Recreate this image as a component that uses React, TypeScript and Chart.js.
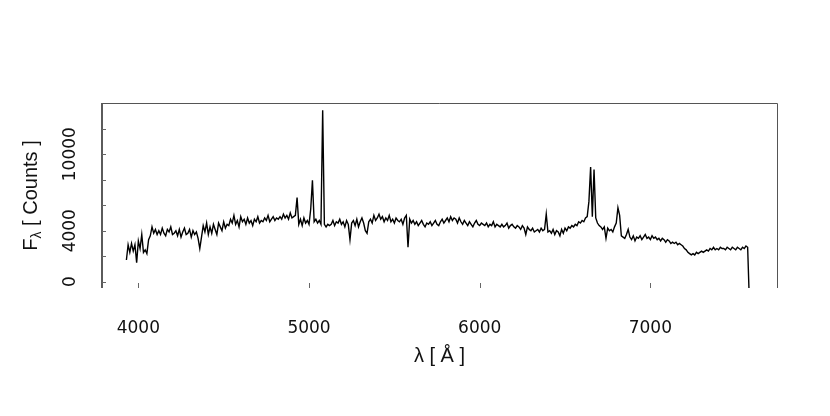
import React, { useEffect, useRef } from "react";
import { Chart, registerables } from "chart.js";

Chart.register(...registerables);

// Wavelength grid of the spectrum (Angstrom)
const LAMBDA_START = 3930;
const LAMBDA_STEP = 10;

// Flux values (counts), 10 Angstrom apart
const fluxBlue = [
  1700, 2900, 2300, 3000, 2400, 2900, 1500, 3200, 2600, 3700,
  2300, 2500, 2200, 3300, 3600, 4300, 3800, 4100, 3700, 4000,
  3700, 4200, 3800, 3600, 4100, 3900, 4300, 3700, 3800, 4000,
  3600, 4100, 3500, 3900, 4200, 3700, 3800, 4100, 3500, 4000,
  3700, 3900, 3400, 2600, 3500, 4400, 3900, 4600, 3700, 4300,
];
const fluxCyan = [
  3800, 4500, 4100, 3700, 4600, 4300, 4000, 4700, 4200, 4500,
  4400, 4900, 4600, 5200, 4500, 4800, 4300, 5100, 4700, 4900,
  4500, 5000, 4600, 4800, 4400, 4900, 4700, 5100, 4600, 4800,
  4700, 5000, 4800, 5200, 4700, 4900, 5100, 4800, 5000, 4900,
  5100, 4900, 5300, 5000, 5200, 4900, 5400, 5000, 5100, 5200,
];
const fluxGreen = [
  6600, 4500, 4900, 4400, 5000, 4600, 4800, 4500, 5700, 7950,
  4700, 4900, 4600, 4800, 4500, 13450, 4500, 4300, 4500, 4400,
  4500, 4800, 4400, 4700, 4600, 4900, 4500, 4700, 4300, 4800,
  4500, 3300, 4600, 4800, 4400, 4900, 4300, 4700, 5000, 4600,
  4000, 3800, 4700, 4900, 4600, 5200, 4800, 5000, 5300, 4900,
  5100, 4700, 5000, 4800, 5200, 4700, 4900, 4600, 5000, 4800,
  4700, 4900, 4500, 5000, 5200, 2700, 4900, 4600, 4800, 4500,
  4700, 4400, 4600, 4800, 4500, 4300, 4600, 4500, 4700, 4400,
  4600, 4800, 4500, 4400, 4700, 4900, 4600, 4800, 5000, 4700,
  5100, 4800, 5000, 4900, 4600, 5000, 4700, 4500, 4800, 4600,
];
const fluxRed = [
  4400, 4700, 4500, 4300, 4600, 4800, 4500, 4400, 4600, 4500,
  4400, 4600, 4300, 4500, 4400, 4700, 4300, 4500, 4400, 4300,
  4500, 4300, 4400, 4600, 4200, 4400, 4500, 4300, 4200, 4400,
  4300, 4100, 4400, 4200, 3700, 4300, 4100, 4000, 4200, 3900,
  4000, 4100, 3900, 4200, 4000, 4100, 5300, 3900, 4000, 3800,
  4100, 3700, 4000, 3900, 3600, 4100, 3800, 4200, 4000, 4300,
  4200, 4400, 4300, 4500, 4400, 4700, 4600, 4800, 4700, 5000,
  5100, 6300, 9000, 5100, 8800, 5000, 4600, 4400, 4300, 4100,
  4300, 3400, 4200, 4000, 4100, 3900, 4300, 4600, 5800, 5200,
  3600, 3500, 3400, 3700, 4100, 3500, 3300, 3600, 3200, 3500,
];
const fluxFarRed = [
  3400, 3600, 3300, 3500, 3700, 3400, 3500, 3300, 3600, 3400,
  3500, 3300, 3400, 3200, 3400, 3300, 3100, 3300, 3200, 3000,
  3100, 3000, 3100, 2900, 3000, 2900, 2800, 2600, 2500, 2300,
  2200, 2100, 2200, 2100, 2300, 2200, 2300, 2400, 2300, 2400,
  2500, 2400, 2600, 2500, 2700, 2500, 2600, 2500, 2700, 2600,
  2600, 2500, 2700, 2600, 2500, 2700, 2600, 2500, 2700, 2600,
  2500, 2700, 2600, 2800, 2700, -1500,
];

// Axes
const X_MIN = 3787;
const X_MAX = 7742;
const Y_MIN = -494;
const Y_MAX = 14016;
const xTickValues = [4000, 5000, 6000, 7000];
const xTickLabels = ["4000", "5000", "6000", "7000"];
const yTickValues = [0, 2000, 4000, 6000, 8000, 10000, 12000];
const yTickLabels = ["0", "", "4000", "", "", "10000", ""];
const xTitle = "λ [ Å ]";
const yTitleMain = "F";
const yTitleSub = "λ";
const yTitleRest = " [ Counts ]";

const TICK_FONT = "17px 'DejaVu Sans'";
const TITLE_FONT = "20px 'Liberation Sans'";
const SUB_FONT = "14px 'Liberation Sans'";

const axesPlugin = {
  id: "rAxes",
  afterDraw(chart: any) {
    const { ctx, chartArea } = chart;
    const xs = chart.scales.x;
    const ys = chart.scales.y;
    const { left, right, top, bottom } = chartArea;
    ctx.save();
    // box: left, top, right
    ctx.strokeStyle = "#333";
    ctx.lineWidth = 1.6;
    ctx.beginPath();
    ctx.moveTo(left, bottom);
    ctx.lineTo(left, top);
    ctx.stroke();
    ctx.strokeStyle = "#555";
    ctx.lineWidth = 1;
    ctx.beginPath();
    ctx.moveTo(left, top + 0.5);
    ctx.lineTo(right + 0.5, top + 0.5);
    ctx.lineTo(right + 0.5, bottom);
    ctx.stroke();

    // y ticks (inward)
    ctx.strokeStyle = "#666";
    ctx.lineWidth = 1;
    yTickValues.forEach((v) => {
      const py = Math.round(ys.getPixelForValue(v)) + 0.5;
      ctx.beginPath();
      ctx.moveTo(left, py);
      ctx.lineTo(left + 4, py);
      ctx.stroke();
    });
    // x ticks (inward from bottom)
    xTickValues.forEach((v) => {
      const px = Math.round(xs.getPixelForValue(v)) + 0.5;
      ctx.beginPath();
      ctx.moveTo(px, bottom);
      ctx.lineTo(px, bottom - 5);
      ctx.stroke();
    });

    ctx.fillStyle = "#111";
    // x tick labels
    ctx.font = TICK_FONT;
    ctx.textAlign = "center";
    ctx.textBaseline = "alphabetic";
    xTickValues.forEach((v, i) => {
      ctx.fillText(xTickLabels[i], xs.getPixelForValue(v), 333);
    });
    // y tick labels, rotated
    yTickValues.forEach((v, i) => {
      const label = yTickLabels[i];
      if (!label) return;
      ctx.save();
      ctx.translate(75, ys.getPixelForValue(v));
      ctx.rotate(-Math.PI / 2);
      ctx.textAlign = "center";
      ctx.fillText(label, 0, 0);
      ctx.restore();
    });

    // x title
    ctx.font = TITLE_FONT;
    ctx.textAlign = "center";
    ctx.fillText(xTitle, (left + right) / 2, 362);

    // y title with subscript
    ctx.save();
    ctx.font = TITLE_FONT;
    const wMain = ctx.measureText(yTitleMain).width;
    const wRest = ctx.measureText(yTitleRest).width;
    ctx.font = SUB_FONT;
    const wSub = ctx.measureText(yTitleSub).width;
    const total = wMain + wSub + wRest;
    ctx.translate(37, (top + bottom) / 2);
    ctx.rotate(-Math.PI / 2);
    ctx.textAlign = "left";
    let cx = -total / 2;
    ctx.font = TITLE_FONT;
    ctx.fillText(yTitleMain, cx, 0);
    cx += wMain;
    ctx.font = SUB_FONT;
    ctx.fillText(yTitleSub, cx, 4);
    cx += wSub;
    ctx.font = TITLE_FONT;
    ctx.fillText(yTitleRest, cx, 0);
    ctx.restore();

    ctx.restore();
  },
};

export default function App() {
  const canvasRef = useRef<HTMLCanvasElement | null>(null);

  useEffect(() => {
    const canvas = canvasRef.current;
    if (!canvas) return;
    const flux = [...fluxBlue, ...fluxCyan, ...fluxGreen, ...fluxRed, ...fluxFarRed];
    const points = flux.map((f, i) => ({ x: LAMBDA_START + i * LAMBDA_STEP, y: f }));
    const chart = new Chart(canvas, {
      type: "line",
      data: {
        datasets: [
          {
            data: points,
            borderColor: "#000",
            borderWidth: 1.4,
            pointRadius: 0,
            tension: 0,
            fill: false,
          },
        ],
      },
      options: {
        responsive: false,
        animation: false,
        layout: { padding: { left: 102, top: 103, right: 53, bottom: 128 } },
        plugins: { legend: { display: false }, tooltip: { enabled: false } },
        scales: {
          x: { type: "linear", min: X_MIN, max: X_MAX, display: false },
          y: { type: "linear", min: Y_MIN, max: Y_MAX, display: false },
        },
      },
      plugins: [axesPlugin],
    });
    return () => chart.destroy();
  }, []);

  return (
    <div style={{ position: "fixed", left: 0, top: 0, width: 830, height: 416, background: "#fff" }}>
      <canvas ref={canvasRef} width={830} height={416} />
    </div>
  );
}
